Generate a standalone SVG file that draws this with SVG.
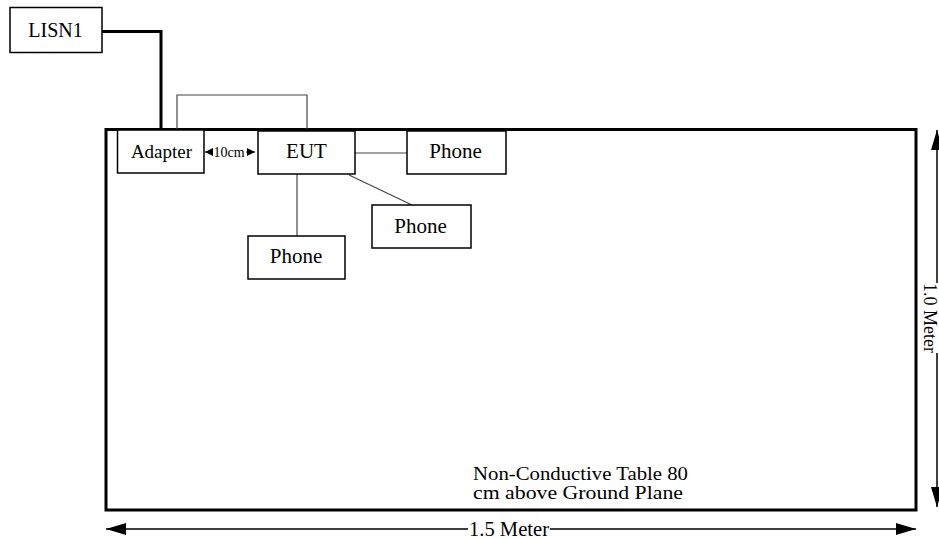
<svg xmlns="http://www.w3.org/2000/svg" width="939" height="539" viewBox="0 0 939 539">
<defs>
<style>
.box{fill:#fff;stroke:#000;stroke-width:1.5}
.t{font-family:"Liberation Serif","Times New Roman",serif;fill:#000;text-anchor:middle}
.tl{font-family:"Liberation Serif","Times New Roman",serif;fill:#000}
.thin{fill:none;stroke:#444;stroke-width:1.2}
.dim{fill:none;stroke:#000;stroke-width:1.5}
</style>
<marker id="ah" viewBox="0 0 20 12" refX="20" refY="6" markerWidth="20" markerHeight="12" markerUnits="userSpaceOnUse" orient="auto-start-reverse"><path d="M0,0 L20,6 L0,12 Z" fill="#000"/></marker>
<marker id="sm" viewBox="0 0 10 10" refX="10" refY="5" markerWidth="8" markerHeight="8" markerUnits="userSpaceOnUse" orient="auto-start-reverse"><path d="M0,0 L10,5 L0,10 Z" fill="#000"/></marker>
</defs>
<rect id="table" x="106" y="129.5" width="810" height="380.5" fill="none" stroke="#000" stroke-width="3"/>
<g id="connectors">
<path d="M102,31.5 H161 V129" fill="none" stroke="#000" stroke-width="3"/>
<path class="thin" d="M177,129 V95 H307 V129"/>
<path class="thin" d="M355,153 H408"/>
<path class="thin" d="M349,175 L412,205"/>
<path class="thin" d="M297,170 V236"/>
<line x1="213" y1="152" x2="205" y2="152" stroke="#000" stroke-width="1" marker-end="url(#sm)"/>
<line x1="246" y1="152" x2="255" y2="152" stroke="#000" stroke-width="1" marker-end="url(#sm)"/>
<line class="dim" x1="468" y1="529" x2="106" y2="529" marker-end="url(#ah)"/>
<line class="dim" x1="550" y1="529" x2="916" y2="529" marker-end="url(#ah)"/>
<line class="dim" x1="937" y1="283" x2="937" y2="130" marker-end="url(#ah)"/>
<line class="dim" x1="937" y1="353" x2="937" y2="507" marker-end="url(#ah)"/>
</g>
<g id="lisn1"><rect class="box" x="10" y="7.5" width="92" height="45"/><text class="t" x="55.5" y="37" font-size="20">LISN1</text></g>
<g id="adapter"><rect class="box" x="117.5" y="130" width="86.5" height="43"/><text class="t" x="161.5" y="158" font-size="19">Adapter</text></g>
<text class="t" x="229" y="157" font-size="14">10cm</text>
<g id="eut"><rect class="box" x="258" y="131" width="97" height="43"/><text class="t" x="306.5" y="158" font-size="21">EUT</text></g>
<g id="phone1"><rect class="box" x="407" y="131" width="99" height="43"/><text class="t" x="455.5" y="158" font-size="21">Phone</text></g>
<g id="phone2"><rect class="box" x="372" y="205" width="99" height="43"/><text class="t" x="420.5" y="233" font-size="21">Phone</text></g>
<g id="phone3"><rect class="box" x="248" y="236" width="97" height="43"/><text class="t" x="296" y="263" font-size="21">Phone</text></g>
<text class="t" x="509" y="535.5" font-size="20" textLength="80" lengthAdjust="spacingAndGlyphs">1.5 Meter</text>
<text class="t" transform="translate(924,318) rotate(90)" x="0" y="0" font-size="18" textLength="70" lengthAdjust="spacingAndGlyphs">1.0 Meter</text>
<text class="tl" x="473" y="480" font-size="19" textLength="215" lengthAdjust="spacingAndGlyphs">Non-Conductive Table 80</text>
<text class="tl" x="473" y="499" font-size="19" textLength="210" lengthAdjust="spacingAndGlyphs">cm above Ground Plane</text>
</svg>
